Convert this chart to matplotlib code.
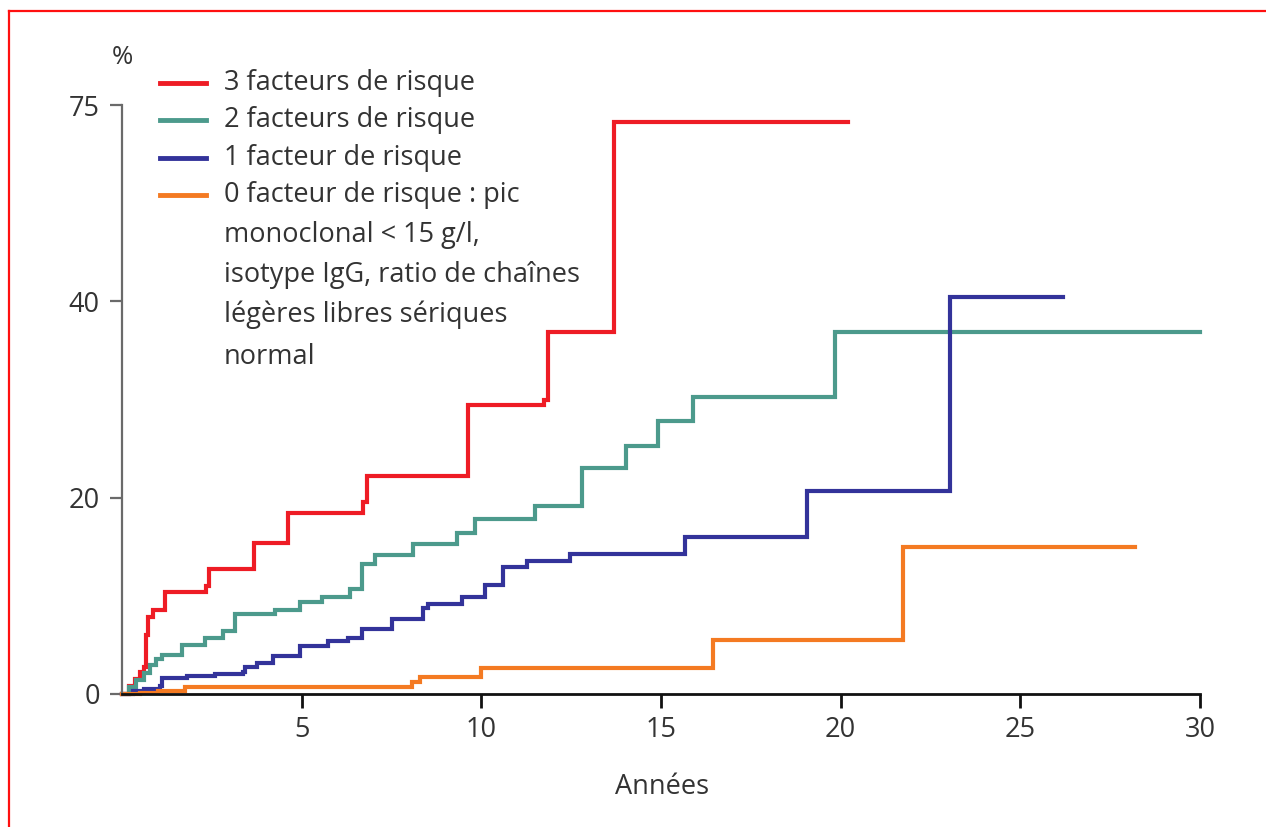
import numpy as np
import matplotlib
matplotlib.use("Agg")
import matplotlib.pyplot as plt
from matplotlib.lines import Line2D

plt.rcParams['font.family'] = ['Open Sans', 'DejaVu Sans']

# === données ===
red_t = [0, 0.2, 0.35, 0.5, 0.62, 0.68, 0.73, 0.85, 1.2, 2.35, 2.42, 3.66, 4.63,
         6.72, 6.81, 9.64, 11.75, 11.85, 13.68, 20.2]
red_v = [0, 0.8, 1.5, 2.2, 2.8, 6.0, 7.8, 8.6, 10.4, 11.0, 12.7, 15.4, 18.4,
         19.6, 22.2, 29.4, 29.9, 36.9, 72, 72]

green_t = [0, 0.2, 0.4, 0.6, 0.78, 0.95, 1.1, 1.66, 2.31, 2.82, 3.15, 4.26, 4.95,
           5.56, 6.35, 6.67, 7.04, 8.11, 9.31, 9.82, 11.49, 12.79, 14.03, 14.93,
           15.88, 19.84, 30.0]
green_v = [0, 0.7, 1.4, 2.1, 3.0, 3.6, 4.0, 5.0, 5.7, 6.4, 8.1, 8.6, 9.4,
           9.9, 10.7, 13.2, 14.2, 15.3, 16.4, 17.8, 19.2, 23.0, 25.3, 27.8,
           30.3, 36.9, 36.9]

blue_t = [0, 0.3, 0.6, 1.06, 1.1, 1.8, 2.6, 3.38, 3.42, 3.75, 4.21, 4.95, 5.74,
          6.3, 6.67, 7.5, 8.39, 8.52, 9.45, 10.1, 10.61, 11.26, 12.47, 15.67,
          19.06, 23.04, 26.2]
blue_v = [0, 0.3, 0.5, 0.8, 1.65, 1.8, 2.0, 2.2, 2.8, 3.2, 3.9, 4.9, 5.4,
          5.7, 6.6, 7.6, 8.8, 9.2, 9.9, 11.1, 12.9, 13.5, 14.3, 16.0,
          20.7, 40.7, 40.7]

orange_t = [0, 0.5, 1.0, 1.75, 8.06, 8.29, 10.0, 16.45, 21.73, 28.2]
orange_v = [0, 0.15, 0.3, 0.7, 1.2, 1.7, 2.6, 5.5, 14.95, 14.95]

series_labels = ["3 facteurs de risque", "2 facteurs de risque",
                 "1 facteur de risque", "0 facteur de risque : pic"]
extra_lines = ["monoclonal < 15 g/l,", "isotype IgG, ratio de chaînes",
               "légères libres sériques", "normal"]
colors = ["#ee1c25", "#4c9a8c", "#33339a", "#f47a22"]

y_ticks = [0, 20, 40, 75]
x_ticks = [5, 10, 15, 20, 25, 30]

TXT = "#333333"
FS = 19.5
W, H = 1266, 827


def fwd(y):
    y = np.asarray(y, dtype=float)
    return np.where(y <= 40, y, 40 + (y - 40) * 20 / 35)


def inv(d):
    d = np.asarray(d, dtype=float)
    return np.where(d <= 40, d, 40 + (d - 40) * 35 / 20)


fig = plt.figure(figsize=(W / 100, H / 100), dpi=100)
ax = fig.add_axes([122 / W, 1 - 694 / H, (1200 - 122) / W, (694 - 105) / H])
ax.set_yscale('function', functions=(fwd, inv))

# === courbes ===
for t, v, c in zip([red_t, green_t, blue_t, orange_t],
                   [red_v, green_v, blue_v, orange_v], colors):
    ax.step(t, v, where='post', color=c, lw=3.0, solid_joinstyle='miter', clip_on=False)

ax.set_xlim(0, 30)
ax.set_ylim(0, 75)
ax.set_xticks(x_ticks)
ax.set_yticks(y_ticks)
ax.set_xticklabels([str(x) for x in x_ticks])
ax.set_yticklabels([str(y) for y in y_ticks])

for s in ['top', 'right']:
    ax.spines[s].set_visible(False)
ax.spines['left'].set_color('#6a6a6a')
ax.spines['left'].set_linewidth(1.6)
ax.spines['bottom'].set_color('#111111')
ax.spines['bottom'].set_linewidth(2.0)
ax.tick_params(axis='y', length=9, width=1.6, color='#6a6a6a', pad=7,
               labelsize=FS, labelcolor=TXT)
ax.tick_params(axis='x', length=10, width=2.0, color='#111111', pad=6,
               labelsize=FS, labelcolor=TXT)

fig.text(122 / W, 1 - 58 / H, "%", ha='center', va='center', fontsize=FS - 1, color=TXT)
fig.text(662 / W, 1 - 787 / H, "Années", ha='center', va='center', fontsize=FS, color=TXT)

# === légende dessinée à la main ===
rows = [83, 120, 158, 195]
for py, lab, c in zip(rows, series_labels, colors):
    fig.add_artist(Line2D([160 / W, 206 / W], [1 - py / H, 1 - py / H], color=c, lw=3.5))
    fig.text(224 / W, 1 - py / H, lab, ha='left', va='center', fontsize=FS, color=TXT)
for py, lab in zip([235, 275, 315, 357], extra_lines):
    fig.text(224 / W, 1 - py / H, lab, ha='left', va='center', fontsize=FS, color=TXT)

# cadre rouge (haut et gauche)
fig.add_artist(Line2D([8.5 / W, 1], [1 - 10.5 / H, 1 - 10.5 / H], color='#ff1010', lw=1.6))
fig.add_artist(Line2D([8.5 / W, 8.5 / W], [0, 1 - 10.5 / H], color='#ff1010', lw=1.6))

fig.savefig("out.png", dpi=100)
